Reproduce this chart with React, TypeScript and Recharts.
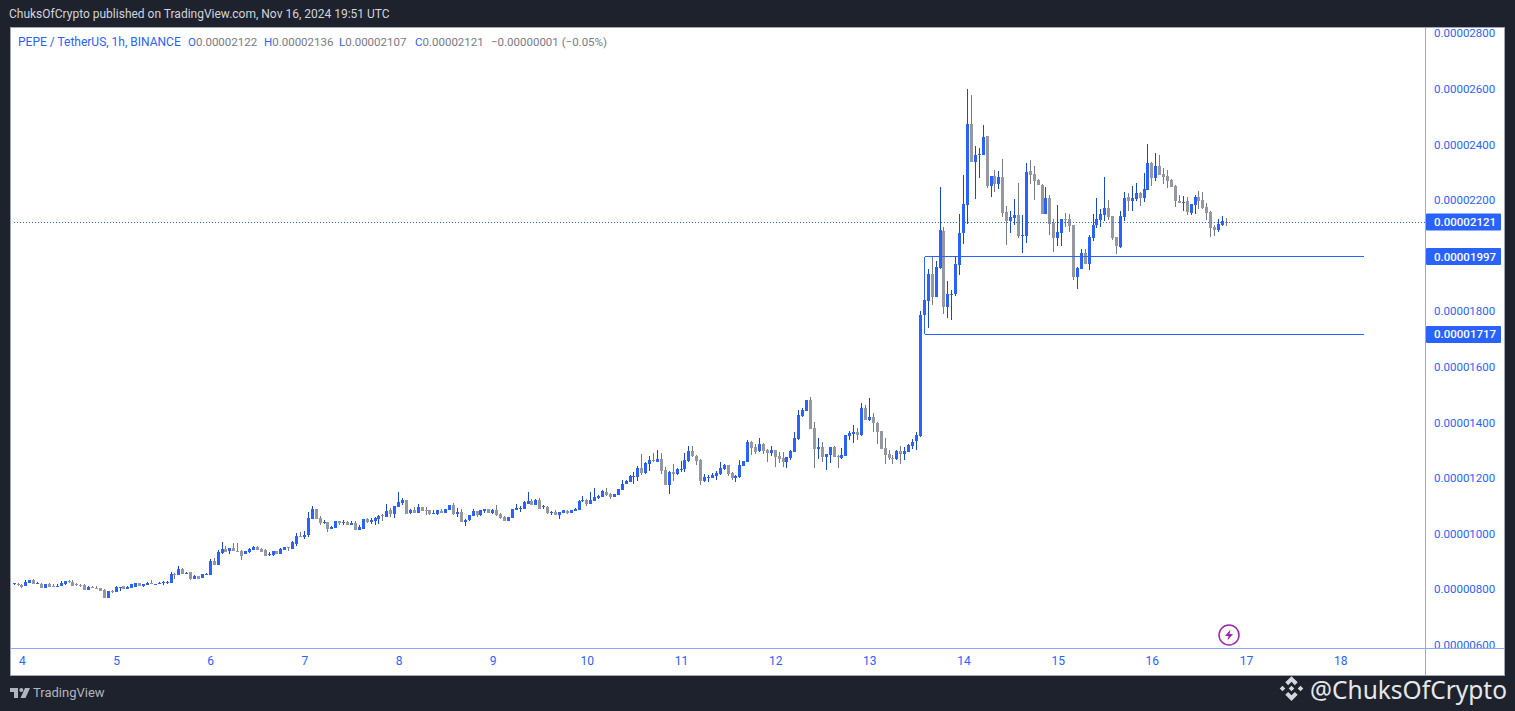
import { Bar, ComposedChart, ReferenceLine, XAxis, YAxis } from 'recharts';

// PEPE/USDT hourly candles, prices in units of 0.00000001
const opens = [
  819, 818, 815, 813, 823, 833, 820, 821, 808, 821,
  812, 809, 812, 819, 829, 827, 819, 815, 817, 799,
  809, 805, 805, 799, 769, 793, 791, 808, 812, 801,
  805, 809, 823, 812, 816, 822, 818, 820, 824, 825,
  823, 855, 851, 874, 855, 861, 837, 849, 840, 852,
  851, 901, 886, 932, 945, 935, 948, 939, 939, 925,
  934, 942, 952, 945, 942, 923, 923, 938, 927, 942,
  952, 945, 962, 991, 987, 994, 1053, 1089, 1056, 1040,
  1042, 1017, 1020, 1046, 1041, 1042, 1031, 1038, 1013, 1017,
  1053, 1042, 1046, 1053, 1067, 1060, 1085, 1071, 1096, 1110,
  1121, 1074, 1085, 1074, 1096, 1085, 1085, 1073, 1071, 1082,
  1074, 1085, 1103, 1071, 1078, 1042, 1049, 1064, 1082, 1067,
  1082, 1089, 1075, 1085, 1071, 1060, 1046, 1057, 1085, 1091,
  1089, 1107, 1118, 1103, 1121, 1095, 1096, 1075, 1078, 1067,
  1075, 1081, 1075, 1082, 1085, 1118, 1121, 1107, 1118, 1129,
  1132, 1150, 1143, 1132, 1139, 1157, 1179, 1186, 1207, 1204,
  1236, 1218, 1251, 1264, 1258, 1269, 1229, 1175, 1222, 1215,
  1232, 1233, 1262, 1297, 1279, 1264, 1189, 1203, 1200, 1207,
  1214, 1232, 1246, 1218, 1200, 1203, 1243, 1257, 1329, 1311,
  1297, 1322, 1300, 1290, 1300, 1279, 1272, 1257, 1272, 1293,
  1340, 1423, 1441, 1480, 1379, 1304, 1311, 1275, 1282, 1311,
  1278, 1272, 1279, 1351, 1358, 1365, 1354, 1451, 1408, 1419,
  1397, 1369, 1307, 1286, 1272, 1268, 1297, 1286, 1293, 1315,
  1333, 1351, 1786, 1836, 1934, 1851, 1955, 2088, 1815, 1862,
  1862, 1966, 2081, 2182, 2473, 2336, 2364, 2361, 2430, 2250,
  2286, 2257, 2282, 2157, 2124, 2135, 2146, 2071, 2070, 2304,
  2293, 2271, 2254, 2149, 2207, 2117, 2063, 2081, 2131, 2131,
  2110, 1923, 1952, 2009, 1970, 2063, 2110, 2128, 2146, 2171,
  2142, 2066, 2030, 2138, 2210, 2196, 2203, 2225, 2207, 2235,
  2332, 2278, 2322, 2293, 2286, 2271, 2250, 2196, 2193, 2196,
  2153, 2181, 2210, 2199, 2174, 2156, 2102, 2092, 2110, 2122,
];

const closes = [
  822, 817, 809, 826, 833, 820, 822, 808, 821, 809,
  811, 813, 824, 829, 828, 813, 814, 814, 799, 808,
  808, 804, 794, 772, 795, 792, 809, 809, 801, 809,
  818, 823, 813, 818, 822, 821, 820, 822, 825, 826,
  855, 854, 873, 855, 857, 837, 849, 840, 855, 856,
  902, 887, 933, 945, 934, 947, 938, 938, 922, 937,
  945, 952, 942, 934, 920, 927, 938, 927, 945, 952,
  951, 970, 992, 990, 995, 1056, 1089, 1053, 1038, 1043,
  1017, 1024, 1046, 1038, 1043, 1031, 1038, 1013, 1024, 1053,
  1042, 1049, 1056, 1064, 1066, 1082, 1071, 1100, 1114, 1121,
  1071, 1085, 1074, 1096, 1082, 1084, 1071, 1075, 1085, 1074,
  1089, 1103, 1071, 1078, 1042, 1049, 1067, 1082, 1067, 1085,
  1089, 1075, 1085, 1067, 1057, 1046, 1060, 1089, 1093, 1093,
  1114, 1118, 1103, 1121, 1089, 1098, 1075, 1077, 1067, 1078,
  1085, 1075, 1085, 1089, 1118, 1120, 1107, 1121, 1132, 1136,
  1154, 1139, 1132, 1143, 1161, 1179, 1190, 1208, 1208, 1236,
  1218, 1254, 1265, 1263, 1269, 1226, 1175, 1222, 1215, 1233,
  1234, 1265, 1297, 1279, 1261, 1190, 1203, 1205, 1211, 1218,
  1236, 1246, 1214, 1200, 1207, 1246, 1261, 1329, 1308, 1293,
  1322, 1297, 1290, 1300, 1275, 1268, 1257, 1275, 1297, 1343,
  1426, 1444, 1480, 1376, 1304, 1311, 1275, 1286, 1311, 1275,
  1277, 1282, 1354, 1361, 1365, 1354, 1451, 1408, 1419, 1397,
  1365, 1304, 1282, 1272, 1268, 1297, 1286, 1297, 1318, 1329,
  1354, 1786, 1840, 1934, 1851, 1959, 2092, 1815, 1862, 1864,
  1970, 2081, 2185, 2473, 2336, 2361, 2366, 2426, 2250, 2286,
  2257, 2282, 2153, 2124, 2139, 2146, 2070, 2073, 2300, 2290,
  2268, 2254, 2149, 2207, 2113, 2063, 2085, 2131, 2128, 2106,
  1923, 1955, 2009, 1970, 2067, 2110, 2131, 2149, 2171, 2138,
  2063, 2034, 2142, 2207, 2196, 2207, 2225, 2207, 2239, 2332,
  2278, 2322, 2289, 2282, 2268, 2246, 2196, 2189, 2195, 2156,
  2185, 2210, 2196, 2171, 2153, 2099, 2092, 2113, 2124, 2121,
];

const highs = [
  822, 822, 820, 833, 833, 837, 828, 822, 821, 824,
  818, 818, 830, 829, 833, 833, 823, 819, 820, 813,
  812, 812, 805, 801, 795, 797, 811, 809, 812, 811,
  820, 823, 823, 818, 826, 833, 821, 826, 830, 831,
  864, 857, 884, 878, 862, 864, 851, 849, 855, 860,
  908, 912, 941, 970, 955, 947, 965, 965, 942, 937,
  949, 956, 956, 949, 945, 936, 938, 938, 949, 952,
  953, 974, 1002, 1006, 1010, 1078, 1100, 1089, 1064, 1049,
  1042, 1028, 1046, 1046, 1049, 1046, 1046, 1046, 1031, 1053,
  1056, 1056, 1061, 1067, 1071, 1107, 1092, 1100, 1150, 1128,
  1121, 1089, 1096, 1107, 1096, 1096, 1085, 1085, 1085, 1089,
  1089, 1103, 1110, 1092, 1089, 1053, 1069, 1089, 1082, 1085,
  1089, 1089, 1089, 1103, 1075, 1064, 1060, 1089, 1107, 1100,
  1118, 1150, 1125, 1125, 1129, 1103, 1100, 1083, 1085, 1078,
  1085, 1085, 1085, 1093, 1121, 1136, 1125, 1150, 1164, 1139,
  1157, 1165, 1147, 1143, 1161, 1193, 1193, 1211, 1222, 1243,
  1287, 1258, 1279, 1290, 1301, 1290, 1240, 1226, 1251, 1236,
  1261, 1290, 1315, 1315, 1283, 1268, 1214, 1210, 1218, 1225,
  1258, 1250, 1246, 1221, 1210, 1264, 1261, 1336, 1333, 1322,
  1343, 1325, 1304, 1315, 1300, 1293, 1293, 1275, 1300, 1365,
  1444, 1451, 1480, 1491, 1401, 1343, 1329, 1286, 1311, 1315,
  1282, 1307, 1354, 1368, 1390, 1379, 1469, 1462, 1487, 1433,
  1401, 1369, 1343, 1300, 1282, 1300, 1315, 1311, 1322, 1340,
  1365, 1800, 1840, 1952, 1998, 1980, 2246, 2103, 1909, 1876,
  1995, 2149, 2290, 2599, 2577, 2394, 2387, 2469, 2430, 2286,
  2307, 2304, 2347, 2178, 2160, 2203, 2261, 2146, 2333, 2343,
  2322, 2275, 2257, 2246, 2218, 2131, 2182, 2131, 2153, 2149,
  2110, 1959, 2024, 2024, 2074, 2149, 2207, 2167, 2282, 2199,
  2142, 2066, 2160, 2228, 2225, 2250, 2261, 2228, 2296, 2401,
  2336, 2368, 2361, 2314, 2307, 2275, 2253, 2217, 2214, 2210,
  2185, 2217, 2232, 2228, 2189, 2160, 2110, 2131, 2142, 2136,
];

const lows = [
  816, 813, 805, 813, 823, 820, 820, 808, 808, 809,
  806, 809, 812, 814, 822, 813, 814, 808, 799, 799,
  806, 801, 794, 772, 769, 787, 791, 794, 801, 801,
  805, 809, 813, 807, 816, 820, 818, 820, 817, 819,
  823, 837, 851, 855, 854, 837, 837, 840, 840, 852,
  851, 887, 886, 927, 934, 924, 938, 934, 906, 925,
  932, 942, 942, 934, 920, 920, 920, 927, 927, 942,
  938, 945, 955, 990, 983, 988, 1053, 1053, 1031, 1034,
  1006, 1017, 1020, 1031, 1031, 1031, 1031, 1013, 1013, 1017,
  1038, 1035, 1031, 1035, 1046, 1060, 1060, 1056, 1096, 1103,
  1071, 1071, 1074, 1074, 1082, 1067, 1067, 1071, 1067, 1074,
  1074, 1085, 1067, 1060, 1042, 1028, 1046, 1064, 1060, 1064,
  1075, 1075, 1071, 1064, 1053, 1046, 1046, 1057, 1085, 1078,
  1089, 1107, 1103, 1103, 1089, 1089, 1071, 1067, 1067, 1053,
  1075, 1071, 1075, 1082, 1085, 1114, 1100, 1107, 1118, 1125,
  1132, 1135, 1125, 1132, 1139, 1157, 1179, 1186, 1179, 1190,
  1211, 1215, 1225, 1258, 1258, 1215, 1175, 1143, 1190, 1211,
  1222, 1222, 1258, 1276, 1246, 1175, 1185, 1185, 1200, 1193,
  1211, 1228, 1207, 1193, 1185, 1200, 1243, 1257, 1282, 1286,
  1293, 1286, 1257, 1279, 1239, 1254, 1239, 1236, 1264, 1293,
  1336, 1419, 1441, 1376, 1236, 1268, 1257, 1228, 1254, 1275,
  1236, 1268, 1279, 1336, 1325, 1336, 1351, 1408, 1405, 1365,
  1322, 1304, 1250, 1264, 1250, 1264, 1250, 1264, 1293, 1304,
  1300, 1345, 1786, 1740, 1822, 1851, 1952, 1790, 1776, 1768,
  1855, 1930, 2042, 2113, 2336, 2203, 2279, 2361, 2243, 2210,
  2228, 2239, 2139, 2038, 2081, 2110, 2063, 2009, 2045, 2257,
  2200, 2254, 2149, 2149, 2074, 2013, 2034, 2034, 2103, 2085,
  1912, 1880, 1952, 1970, 1948, 2052, 2099, 2102, 2124, 2127,
  2056, 2005, 2027, 2124, 2160, 2160, 2196, 2178, 2192, 2235,
  2250, 2268, 2289, 2257, 2243, 2246, 2174, 2189, 2160, 2145,
  2145, 2149, 2167, 2167, 2127, 2066, 2070, 2084, 2106, 2107,
];

const SLOT_COUNT = 360; // the time axis runs on past the last candle
const dayLabels = ['4', '5', '6', '7', '8', '9', '10', '11', '12', '13', '14', '15', '16', '17', '18'];
const daySlots = [2, 26, 50, 74, 98, 122, 146, 170, 194, 218, 242, 266, 290, 314, 338];
const priceTicks = [600, 800, 1000, 1200, 1400, 1600, 1800, 2200, 2400, 2600, 2800];
const PRICE_DOMAIN = [589, 2821];
const LAST_PRICE = 2121;
const UPPER_LEVEL = 1997;
const LOWER_LEVEL = 1717;
const BOX_START_SLOT = 232;
const BOX_END_SLOT = 344;

const BLUE = '#2962ff';
const BLUE_WICK = '#1848cc';
const GREY = '#9598a1';
const GREY_WICK = '#787b86';
const AXIS_LINE = '#8ba8fb';
const FONT = 'Roboto, sans-serif';

const tableData = Array.from({ length: SLOT_COUNT }, (_, slot) =>
  slot < opens.length
    ? {
        slot,
        open: opens[slot],
        close: closes[slot],
        high: highs[slot],
        low: lows[slot],
        range: [lows[slot], highs[slot]],
      }
    : { slot },
);

const formatPrice = (v: number) => (v / 1e8).toFixed(8);

function Candle(props: any) {
  const { x, y, width, height, payload } = props;
  if (payload.open === undefined) return null;
  const top = Math.min(y, y + height);
  const h = Math.abs(height);
  const perUnit = h / Math.max(payload.high - payload.low, 1);
  const up = payload.close >= payload.open;
  const bodyTop = top + (payload.high - Math.max(payload.open, payload.close)) * perUnit;
  const bodyHeight = Math.abs(payload.close - payload.open) * perUnit;
  const left = Math.round(x);
  return (
    <g shapeRendering="crispEdges">
      <rect x={left + 1} y={Math.round(top)} width={1} height={Math.max(Math.round(h), 1)} fill={up ? BLUE_WICK : GREY_WICK} />
      <rect x={left} y={Math.round(bodyTop)} width={3} height={Math.max(Math.round(bodyHeight), 1)} fill={up ? BLUE : GREY} />
    </g>
  );
}

// price tag sitting on the right axis, at the height of its reference line
function PriceTag({ viewBox, value }: any) {
  if (!viewBox) return null;
  const axisX = viewBox.x + viewBox.width;
  return (
    <g>
      <rect x={axisX + 1} y={viewBox.y - 8.5} width={75} height={17} rx={1} fill={BLUE} />
      <text x={axisX + 9} y={viewBox.y + 4} fill="#fff" fontSize={11.5} fontWeight={500} fontFamily={FONT}>
        {formatPrice(value)}
      </text>
    </g>
  );
}

function Legend() {
  const label = { position: 'absolute', top: 35, color: BLUE, whiteSpace: 'nowrap', fontSize: 11.5 } as const;
  const value = { color: GREY_WICK };
  return (
    <div style={{ fontFamily: FONT }}>
      <span style={{ ...label, left: 18, fontSize: 12 }}>PEPE / TetherUS, 1h, BINANCE</span>
      <span style={{ ...label, left: 188 }}>O<span style={value}>0.00002122</span></span>
      <span style={{ ...label, left: 264 }}>H<span style={value}>0.00002136</span></span>
      <span style={{ ...label, left: 339 }}>L<span style={value}>0.00002107</span></span>
      <span style={{ ...label, left: 415 }}>C<span style={value}>0.00002121</span></span>
      <span style={{ ...label, left: 491, color: GREY_WICK }}>−0.00000001 (−0.05%)</span>
    </div>
  );
}

export default function App() {
  return (
    <div style={{ position: 'fixed', left: 0, top: 0, width: 1515, height: 711, background: '#1e222d', overflow: 'hidden' }}>
      <div style={{ position: 'absolute', left: 9, top: 7, color: '#d1d4dc', fontFamily: FONT, fontSize: 12, whiteSpace: 'nowrap' }}>
        ChuksOfCrypto published on TradingView.com, Nov 16, 2024 19:51 UTC
      </div>
      <div style={{ position: 'absolute', left: 10, top: 27, width: 1495, height: 649, boxSizing: 'border-box', background: '#fff', border: '1px solid #a3a6af' }} />
      <div style={{ position: 'absolute', left: 0, top: 0 }}>
        <ComposedChart
          width={1515}
          height={711}
          data={tableData}
          margin={{ top: 27.5, right: 10, bottom: 36, left: 12.6 }}
        >
          <XAxis
            dataKey="slot"
            ticks={daySlots}
            interval={0}
            axisLine={false}
            tickLine={false}
            height={27}
            tickSize={0}
            tickMargin={8}
            tick={{ fill: BLUE, fontSize: 12, fontFamily: FONT }}
            tickFormatter={(v: number) => dayLabels[daySlots.indexOf(v)]}
          />
          <YAxis
            orientation="right"
            domain={PRICE_DOMAIN}
            ticks={priceTicks}
            interval={0}
            allowDataOverflow
            axisLine={false}
            tickLine={false}
            width={80}
            tickSize={0}
            tickMargin={9}
            tick={{ fill: BLUE, fontSize: 11.5, fontFamily: FONT, textAnchor: 'start' }}
            tickFormatter={formatPrice}
          />
          <Bar dataKey="range" barSize={3} shape={<Candle />} isAnimationActive={false} />
          <ReferenceLine
            y={LAST_PRICE}
            stroke={BLUE}
            strokeDasharray="1.5 1.5"
            shapeRendering="crispEdges"
            label={<PriceTag value={LAST_PRICE} />}
          />
          <ReferenceLine
            segment={[{ x: BOX_START_SLOT, y: UPPER_LEVEL }, { x: BOX_END_SLOT, y: UPPER_LEVEL }]}
            stroke={BLUE}
            shapeRendering="crispEdges"
          />
          <ReferenceLine
            segment={[{ x: BOX_START_SLOT, y: LOWER_LEVEL }, { x: BOX_END_SLOT, y: LOWER_LEVEL }]}
            stroke={BLUE}
            shapeRendering="crispEdges"
          />
          <ReferenceLine
            segment={[{ x: BOX_START_SLOT, y: LOWER_LEVEL }, { x: BOX_START_SLOT, y: UPPER_LEVEL }]}
            stroke={BLUE}
            shapeRendering="crispEdges"
          />
          <ReferenceLine y={UPPER_LEVEL} stroke="none" label={<PriceTag value={UPPER_LEVEL} />} />
          <ReferenceLine y={LOWER_LEVEL} stroke="none" label={<PriceTag value={LOWER_LEVEL} />} />
        </ComposedChart>
      </div>
      <Legend />
      <div style={{ position: 'absolute', left: 11, top: 648, width: 1493, height: 1, background: AXIS_LINE }} />
      <div style={{ position: 'absolute', left: 1425, top: 28, width: 1, height: 647, background: AXIS_LINE }} />
      <svg width={24} height={24} viewBox="0 0 24 24" style={{ position: 'absolute', left: 1217, top: 623 }}>
        <circle cx={12} cy={12} r={10} fill="#fff" stroke="#9c27b0" strokeWidth={1.5} />
        <path d="M13.5 6.5 L8 13 H11.5 L10.5 17.5 L16 11 H12.5 Z" fill="#9c27b0" />
      </svg>
      <svg width={20} height={12} viewBox="0 0 20 12" style={{ position: 'absolute', left: 10, top: 687 }}>
        <path d="M0 1 H8 V11 H4 V5 H0 Z M15 1 H20 L15.5 11 H10.5 Z" fill="#b2b5be" />
        <circle cx={11.3} cy={3} r={2} fill="#b2b5be" />
      </svg>
      <div style={{ position: 'absolute', left: 33, top: 685, color: '#b2b5be', fontFamily: FONT, fontSize: 13, whiteSpace: 'nowrap' }}>
        TradingView
      </div>
      <svg width={27} height={27} viewBox="0 0 24 24" style={{ position: 'absolute', left: 1278, top: 675 }}>
        <path
          d="M12 1 L17.5 6.5 L15 9 L12 6 L9 9 L6.5 6.5 Z M12 23 L17.5 17.5 L15 15 L12 18 L9 15 L6.5 17.5 Z M4 9.5 L6.5 12 L4 14.5 L1.5 12 Z M20 9.5 L22.5 12 L20 14.5 L17.5 12 Z M12 9.5 L14.5 12 L12 14.5 L9.5 12 Z"
          fill="#d6d7da"
        />
      </svg>
      <div style={{ position: 'absolute', left: 1310, top: 673, color: '#e6e7ea', fontFamily: '"Noto Sans", sans-serif', fontSize: 24.5, whiteSpace: 'nowrap' }}>
        @ChuksOfCrypto
      </div>
    </div>
  );
}
